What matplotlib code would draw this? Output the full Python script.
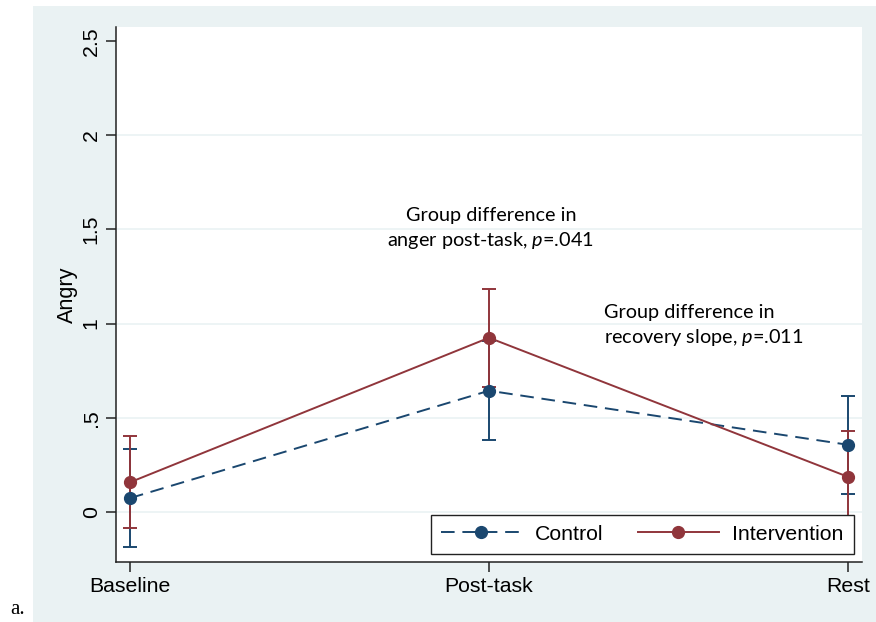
import matplotlib
matplotlib.use("Agg")
import matplotlib.pyplot as plt
from matplotlib.patches import Rectangle
from matplotlib.lines import Line2D

categories = ["Baseline", "Post-task", "Rest"]
control_mean = [0.074, 0.644, 0.357]
control_lo = [-0.186, 0.382, 0.097]
control_hi = [0.334, 0.906, 0.617]
interv_mean = [0.158, 0.925, 0.187]
interv_lo = [-0.087, 0.665, -0.058]
interv_hi = [0.402, 1.185, 0.432]
yticks = [0, 0.5, 1, 1.5, 2, 2.5]
yticklabels = ["0", ".5", "1", "1.5", "2", "2.5"]

plt.rcParams['mathtext.fontset'] = 'custom'
plt.rcParams['mathtext.rm'] = 'Lato'
plt.rcParams['mathtext.it'] = 'Lato:italic'

NAVY = "#1A476F"
MAROON = "#90353B"
BG = "#EAF2F3"
TICKFONT = "Liberation Sans"
FS = 15.3

fig = plt.figure(figsize=(8.76, 6.22), dpi=100)
fig.patch.set_facecolor("white")
fig.add_artist(Rectangle((33/876, 0), 1 - 33/876, 1 - 6/622, transform=fig.transFigure,
                         facecolor=BG, edgecolor="none", zorder=-10))

ax = fig.add_axes([116/876, 1 - 562/622, (862 - 116)/876, (562 - 27)/622])
ax.set_zorder(1)
ax.set_facecolor("white")
x = list(range(len(categories)))

for yv in yticks[:-1]:
    ax.axhline(yv, color=BG, lw=1.2, zorder=0)

def err(mean, lo, hi):
    return [[m - l for m, l in zip(mean, lo)], [h - m for m, h in zip(mean, hi)]]

ax.errorbar(x, control_mean, yerr=err(control_mean, control_lo, control_hi), fmt="none",
            ecolor=NAVY, elinewidth=1.4, capsize=5, capthick=1.4, zorder=2)
ax.errorbar(x, interv_mean, yerr=err(interv_mean, interv_lo, interv_hi), fmt="none",
            ecolor=MAROON, elinewidth=1.4, capsize=5, capthick=1.4, zorder=3)
ax.plot(x, control_mean, color=NAVY, lw=1.4, ls=(0, (7, 4)), marker="o", ms=8.5, zorder=4)
ax.plot(x, interv_mean, color=MAROON, lw=1.4, ls="-", marker="o", ms=8.5, zorder=5)

ax.set_xlim(-0.039, 2.039)
ax.set_ylim(-0.265, 2.574)
ax.set_xticks(x)
ax.set_xticklabels(categories, fontsize=FS, family=TICKFONT)
ax.set_yticks(yticks)
ax.set_yticklabels(yticklabels, fontsize=FS, family=TICKFONT, rotation=90, va="center")
ax.tick_params(axis="both", direction="out", length=7, width=1.1, color="#222222", pad=4)
ax.set_ylabel("Angry", fontsize=15.6, family=TICKFONT, labelpad=3)

for side in ["top", "right"]:
    ax.spines[side].set_visible(False)
for side in ["left", "bottom"]:
    ax.spines[side].set_color("#222222")
    ax.spines[side].set_linewidth(1.1)

ax.text(1.005, 1.502, "Group difference in\nanger post-task, $\\mathit{p}$=.041",
        ha="center", va="center", fontsize=14.3, family="Lato", linespacing=1.4, color="#000000")
ax.text(1.32, 0.987, "Group difference in\nrecovery slope, $\\mathit{p}$=.011",
        ha="left", va="center", fontsize=14.3, family="Lato", linespacing=1.4, color="#000000")

handles = [Line2D([], [], color=NAVY, lw=1.4, ls=(0, (7, 4)), marker="o", ms=8.5),
           Line2D([], [], color=MAROON, lw=1.4, ls="-", marker="o", ms=8.5)]
leg = ax.legend(handles, ["Control", "Intervention"], ncol=2, loc="lower right",
                bbox_to_anchor=(854/876, 1 - 554/622), bbox_transform=fig.transFigure,
                prop={"family": TICKFONT, "size": FS}, frameon=True, fancybox=False,
                borderaxespad=0, handlelength=3.8, handletextpad=0.65, columnspacing=1.6,
                borderpad=0.48)
leg.get_frame().set_edgecolor("#222222")
leg.get_frame().set_linewidth(1.0)
leg.get_frame().set_facecolor("white")
leg.get_frame().set_alpha(1)

fig.text(10/876, 1 - 609/622, "a.", fontsize=15, family="Liberation Serif", va="center", ha="left")

fig.savefig("out.png", dpi=100, facecolor="white")
